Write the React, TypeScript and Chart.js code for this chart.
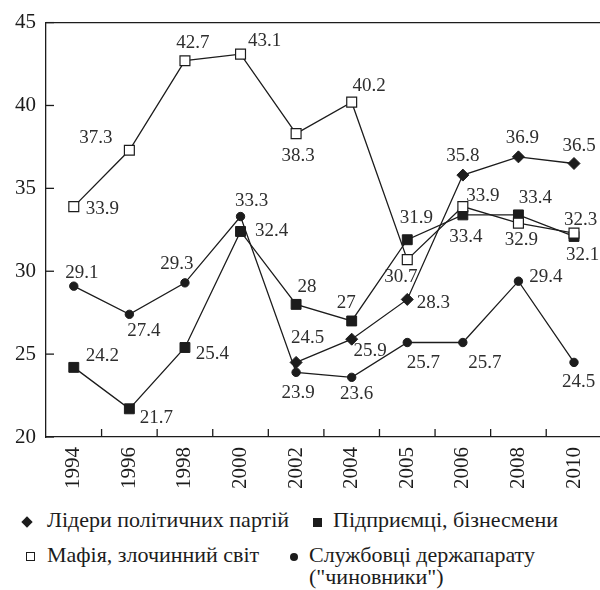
import React, { useEffect, useRef } from 'react';
import { Chart, registerables } from 'chart.js';

Chart.register(...registerables);

// ---- data ----
const years = ['1994', '1996', '1998', '2000', '2002', '2004', '2005', '2006', '2008', '2010'];
const leaders: (number | null)[] = [null, null, null, null, 24.5, 25.9, 28.3, 35.8, 36.9, 36.5];
const business: number[] = [24.2, 21.7, 25.4, 32.4, 28, 27, 31.9, 33.4, 33.4, 32.1];
const mafia: number[] = [33.9, 37.3, 42.7, 43.1, 38.3, 40.2, 30.7, 33.9, 32.9, 32.3];
const officials: number[] = [29.1, 27.4, 29.3, 33.3, 23.9, 23.6, 25.7, 25.7, 29.4, 24.5];
const yTicks = [20, 25, 30, 35, 40, 45];
const seriesNames = [
  'Лідери політичних партій',
  'Підприємці, бізнесмени',
  'Мафія, злочинний світ',
  'Службовці держапарату',
];
const seriesNameCont = '("чиновники")';

// ---- label placement (offset of label centre from its point, px) ----
const leadersLabelOffsets = [
  null, null, null, null,
  [11.5, -24], [18.5, 12], [26, 4], [0, -19], [4, -18.5], [5, -17],
];
const businessLabelOffsets = [
  [28.5, -11], [27, 9], [27.5, 7], [31, 0], [11, -17],
  [-5.5, -18], [9, -21.5], [3, 22], [17, -16.5], [8.5, 19],
];
const mafiaLabelOffsets = [
  [28.5, 2], [-33.5, -12], [8, -18], [24, -13.5], [2, 22],
  [17.5, -16], [-6.5, 17], [20, -11], [3, 17], [6.5, -13],
];
const officialsLabelOffsets = [
  [8, -13], [14.5, 17], [-8, -18.5], [11, -16], [2, 21],
  [5, 17], [16, 20], [22, 20], [27.5, -4], [4.5, 20],
];

const INK = '#1c1c1c';
const SERIF = "'Liberation Serif', 'DejaVu Serif', serif";

const framePlugin = {
  id: 'frame',
  afterDraw(chart: any) {
    const { ctx, chartArea, scales } = chart;
    const { left, right, top, bottom } = chartArea;
    ctx.save();
    ctx.strokeStyle = INK;
    ctx.lineWidth = 1.3;
    ctx.beginPath();
    ctx.moveTo(left, top);
    ctx.lineTo(chart.width, top);
    ctx.stroke();
    const y = scales.y;
    yTicks.forEach((v) => {
      const py = y.getPixelForValue(v);
      ctx.beginPath();
      ctx.moveTo(left, py);
      ctx.lineTo(left + 8, py);
      ctx.stroke();
    });
    const x = scales.x;
    for (let i = 0; i < years.length; i++) {
      const px = (x.getPixelForValue(i) + x.getPixelForValue(i + 1)) / 2;
      if (px > right) continue;
      ctx.beginPath();
      ctx.moveTo(px, bottom);
      ctx.lineTo(px, bottom - 8);
      ctx.stroke();
    }
    ctx.restore();
  },
};

const labelPlugin = {
  id: 'pointLabels',
  afterDatasetsDraw(chart: any) {
    const { ctx } = chart;
    ctx.save();
    ctx.font = `19px ${SERIF}`;
    ctx.fillStyle = '#2e2e2e';
    ctx.textAlign = 'center';
    ctx.textBaseline = 'middle';
    chart.data.datasets.forEach((ds: any, di: number) => {
      const meta = chart.getDatasetMeta(di);
      const offs = ds.labelOffsets;
      ds.data.forEach((v: number | null, i: number) => {
        if (v === null || v === undefined) return;
        const el = meta.data[i];
        const o = offs[i] || [0, -15];
        ctx.fillText(String(v), el.x + o[0], el.y + o[1]);
      });
    });
    ctx.restore();
  },
};

export default function App() {
  const ref = useRef<HTMLCanvasElement | null>(null);

  useEffect(() => {
    if (!ref.current) return;
    const common = {
      borderColor: INK,
      borderWidth: 1.3,
      tension: 0,
      pointBorderColor: INK,
      pointBorderWidth: 1,
    };
    const chart = new Chart(ref.current, {
      type: 'line',
      data: {
        labels: years,
        datasets: [
          {
            ...common,
            label: seriesNames[0],
            data: leaders,
            pointStyle: 'rectRot',
            pointRadius: 6,
            pointBackgroundColor: INK,
            labelOffsets: leadersLabelOffsets,
          } as any,
          {
            ...common,
            label: seriesNames[2],
            data: mafia,
            pointStyle: 'rect',
            pointRadius: 7,
            pointBackgroundColor: '#ffffff',
            pointBorderWidth: 1.2,
            labelOffsets: mafiaLabelOffsets,
          } as any,
          {
            ...common,
            label: seriesNames[1],
            data: business,
            pointStyle: 'rect',
            pointRadius: 7,
            pointBackgroundColor: INK,
            labelOffsets: businessLabelOffsets,
          } as any,
          {
            ...common,
            label: seriesNames[3],
            data: officials,
            pointStyle: 'circle',
            pointRadius: 4.2,
            pointBackgroundColor: INK,
            labelOffsets: officialsLabelOffsets,
          } as any,
        ],
      },
      options: {
        responsive: false,
        animation: false,
        devicePixelRatio: 1,
        layout: { padding: { top: 22, right: 7, left: 0, bottom: 0 } },
        plugins: {
          legend: { display: false },
          tooltip: { enabled: false },
        },
        scales: {
          x: {
            type: 'category',
            offset: true,
            grid: { display: true, drawOnChartArea: false, drawTicks: false, offset: true },
            border: { display: true, color: INK, width: 1.3 },
            ticks: {
              autoSkip: false,
              minRotation: 90,
              maxRotation: 90,
              padding: 10,
              color: INK,
              font: { family: SERIF, size: 21 },
            },
            afterFit: (s: any) => {
              s.height = 63;
            },
          },
          y: {
            min: 20,
            max: 45,
            grid: { display: true, drawOnChartArea: false, drawTicks: false },
            border: { display: true, color: INK, width: 1.3 },
            ticks: {
              stepSize: 5,
              padding: 10,
              color: INK,
              font: { family: SERIF, size: 21 },
            },
            afterFit: (s: any) => {
              s.width = 46;
            },
          },
        },
      } as any,
      plugins: [framePlugin, labelPlugin],
    });
    return () => chart.destroy();
  }, []);

  const text: React.CSSProperties = {
    position: 'absolute',
    fontFamily: SERIF,
    fontSize: 22,
    lineHeight: '22px',
    color: INK,
    whiteSpace: 'nowrap',
  };
  const marker = (cx: number, cy: number, size: number, extra: React.CSSProperties): React.CSSProperties => ({
    position: 'absolute',
    left: cx - size / 2,
    top: cy - size / 2,
    width: size,
    height: size,
    boxSizing: 'border-box',
    ...extra,
  });

  return (
    <div
      style={{
        position: 'absolute',
        left: 0,
        top: 0,
        width: 600,
        height: 590,
        overflow: 'hidden',
        background: '#fff',
      }}
    >
      <canvas ref={ref} width={610} height={500} style={{ display: 'block' }} />
      <span style={marker(27, 522, 8, { background: INK, transform: 'rotate(45deg)' })} />
      <span style={{ ...text, left: 47, top: 509 }}>{seriesNames[0]}</span>
      <span style={marker(317, 522, 9, { background: INK })} />
      <span style={{ ...text, left: 333, top: 509 }}>{seriesNames[1]}</span>
      <span style={marker(30, 556, 9, { background: '#fff', border: `1.2px solid ${INK}` })} />
      <span style={{ ...text, left: 47, top: 544 }}>{seriesNames[2]}</span>
      <span style={marker(294, 557, 8, { background: INK, borderRadius: '50%' })} />
      <span style={{ ...text, left: 309, top: 544 }}>
        {seriesNames[3]}
        <br />
        {seriesNameCont}
      </span>
    </div>
  );
}
